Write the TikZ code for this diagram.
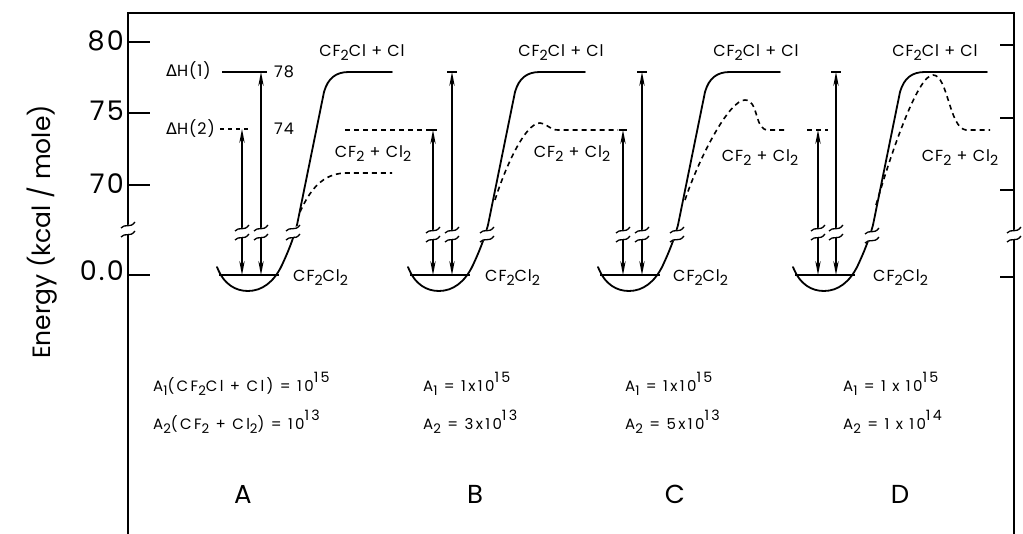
\documentclass[tikz,border=0pt]{standalone}
\usepackage{graphicx}
\usepackage{fontspec}
\setmainfont{Poppins}
\newfontfamily\djv{DejaVu Sans}
\usetikzlibrary{arrows.meta}
\newcommand\lo[1]{\raisebox{-0.45ex}{\scalebox{0.88}{#1}}}
\newcommand\hi[1]{\raisebox{0.62em}{\scalebox{0.95}{#1}}}
\newcommand\Dl{{\djv Δ}}
\newcommand\wellpath[1]{(-25,267) .. controls (-18,285) and (-6,291) .. (6,291) .. controls (20,291) and (32,282) .. (40,265) .. controls (46,252) and (51,240) .. (55,225) -- (82,92) .. controls (86,78) and (94,72) .. (107,72) -- (#1,72)}
\tikzset{
  frame/.style={line width=1.8pt},
  curve/.style={line width=1.8pt, line cap=round},
  dcurve/.style={line width=1.6pt, dash pattern=on 5pt off 4pt},
  lvl/.style={line width=1.4pt},
  varrow/.style={line width=1.3pt, {Stealth[length=14pt,width=5.4pt]}-{Stealth[length=14pt,width=5.4pt]}},
  plab/.style={font=\fontsize{16}{19}\selectfont\addfontfeatures{LetterSpace=6}, inner sep=0pt},
  alab/.style={font=\fontsize{27}{31}\selectfont\addfontfeatures{LetterSpace=8}, inner sep=0pt},
  ylab/.style={font=\fontsize{25}{30}\selectfont, inner sep=0pt},
  elab/.style={font=\fontsize{15}{18}\selectfont\addfontfeatures{LetterSpace=16}, inner sep=0pt},
  letlab/.style={font=\fontsize{26}{30}\selectfont, inner sep=0pt},
  brk/.pic={
    \fill[white] (-7,-2) -- (7,-8) -- (7,1) -- (-7,7) -- cycle;
    \draw[line width=1.3pt] (-7,-2) .. controls (-3,-7) and (2,-1) .. (7,-8);
    \draw[line width=1.3pt] (-7,7) .. controls (-3,2) and (2,8) .. (7,1);
  }
}
\begin{document}
\begin{tikzpicture}[x=1pt,y=-1pt]
\useasboundingbox (0,0) rectangle (1023,534);
% frame
\draw[frame] (128,534) -- (128,13) -- (1014,13) -- (1014,534);
\foreach \yy in {42,113,185,275} \draw[frame] (128,\yy) -- (150,\yy);
\foreach \yy in {45,118,190,277} \draw[frame] (1014,\yy) -- (1000,\yy);
\pic at (128,230) {brk};
\pic at (1014,235) {brk};
% axis labels
\node[alab, anchor=base east] (t80) at (124,51) {80};
\node[alab, anchor=base east] (t75) at (124,121) {75};
\node[alab, anchor=base east] (t70) at (124,194) {70};
\node[alab, anchor=base east] (t00) at (124,281) {0.0};
\node[ylab, rotate=90, anchor=base] (ylab) at (50,232) {Energy (kcal / mole)};

% ---------- Panel A ----------
\begin{scope}[xshift=242pt]
  \draw[lvl] (-23,275) -- (37,275);
  \draw[curve] \wellpath{150};
  \draw[dcurve] (58,212) .. controls (68,190) and (80,174) .. (103,173) -- (150,173);
  \draw[lvl] (-20,72) -- (25,72);
  \draw[lvl, dash pattern=on 4pt off 4pt] (-22,129) -- (6,129);
  \coordinate (Aa2t) at (0,129); \coordinate (Aa2b) at (0,275);
  \coordinate (Aa1t) at (19,72); \coordinate (Aa1b) at (19,275);
  \draw[varrow] (Aa2t) -- (Aa2b);
  \draw[varrow] (Aa1t) -- (Aa1b);
  \pic at (0,233) {brk};
  \pic at (19,233) {brk};
  \pic at (51,233) {brk};
\end{scope}
\node[plab, anchor=base west] (dh1) at (166,77) {\Dl H(1)};
\node[plab, anchor=base west] (n78) at (274,78) {78};
\node[plab, anchor=base west] (dh2) at (166,135) {\Dl H(2)};
\node[plab, anchor=base west] (n74) at (274,135) {74};
\node[plab, anchor=base] (Ap1) at (362,57) {CF\lo{2}Cl + Cl};
\node[plab, anchor=base] (Ap2) at (373,158) {CF\lo{2} + Cl\lo{2}};
\node[plab, anchor=base west] (Ar) at (293,282) {CF\lo{2}Cl\lo{2}};

% ---------- Panel B ----------
\begin{scope}[xshift=433pt]
  \draw[lvl] (-23,275) -- (37,275);
  \draw[curve] \wellpath{152};
  \draw[dcurve] (-88,130) -- (0,130);
  \draw[dcurve] (62,200) .. controls (72,168) and (92,123) .. (107,123) .. controls (114,123) and (116,130) .. (125,130) -- (185,130);
  \draw[lvl] (14,72) -- (24,72);
  \draw[lvl] (-4,130) -- (4,130);
  \coordinate (Ba2t) at (0,130); \coordinate (Ba2b) at (0,275);
  \coordinate (Ba1t) at (19,72); \coordinate (Ba1b) at (19,275);
  \draw[varrow] (Ba2t) -- (Ba2b);
  \draw[varrow] (Ba1t) -- (Ba1b);
  \pic at (0,235) {brk};
  \pic at (19,235) {brk};
  \pic at (54,235) {brk};
\end{scope}
\node[plab, anchor=base] (Bp1) at (561,57) {CF\lo{2}Cl + Cl};
\node[plab, anchor=base] (Bp2) at (572,158) {CF\lo{2} + Cl\lo{2}};
\node[plab, anchor=base west] (Br) at (485,282) {CF\lo{2}Cl\lo{2}};

% ---------- Panel C ----------
\begin{scope}[xshift=623pt]
  \draw[lvl] (-23,275) -- (37,275);
  \draw[curve] \wellpath{157};
  \draw[dcurve] (62,200) .. controls (76,158) and (106,100) .. (122,100) .. controls (136,100) and (131,130) .. (145,130) -- (165,130);
  \draw[lvl] (14,72) -- (24,72);
  \draw[lvl] (-4,130) -- (4,130);
  \coordinate (Ca2t) at (0,130); \coordinate (Ca2b) at (0,275);
  \coordinate (Ca1t) at (19,72); \coordinate (Ca1b) at (19,275);
  \draw[varrow] (Ca2t) -- (Ca2b);
  \draw[varrow] (Ca1t) -- (Ca1b);
  \pic at (0,235) {brk};
  \pic at (19,235) {brk};
  \pic at (54,235) {brk};
\end{scope}
\node[plab, anchor=base] (Cp1) at (756,57) {CF\lo{2}Cl + Cl};
\node[plab, anchor=base] (Cp2) at (760,162) {CF\lo{2} + Cl\lo{2}};
\node[plab, anchor=base west] (Cr) at (673,282) {CF\lo{2}Cl\lo{2}};

% ---------- Panel D ----------
\begin{scope}[xshift=818pt]
  \draw[lvl] (-23,275) -- (37,275);
  \draw[curve] \wellpath{169};
  \draw[dcurve] (58,205) .. controls (74,150) and (100,75) .. (115,75) .. controls (130,75) and (131,128) .. (148,130) -- (172,130);
  \draw[dcurve] (-11,130) -- (10,130);
  \draw[lvl] (13,72) -- (23,72);
  \coordinate (Da2t) at (0,130); \coordinate (Da2b) at (0,275);
  \coordinate (Da1t) at (18,72); \coordinate (Da1b) at (18,275);
  \draw[varrow] (Da2t) -- (Da2b);
  \draw[varrow] (Da1t) -- (Da1b);
  \pic at (0,233) {brk};
  \pic at (18,233) {brk};
  \pic at (54,236) {brk};
\end{scope}
\node[plab, anchor=base] (Dp1) at (935,57) {CF\lo{2}Cl + Cl};
\node[plab, anchor=base] (Dp2) at (960,162) {CF\lo{2} + Cl\lo{2}};
\node[plab, anchor=base west] (Dr) at (873,282) {CF\lo{2}Cl\lo{2}};

% ---------- bottom labels ----------
\node[elab, anchor=base west] (eA1) at (153,392) {A\lo{1}(CF\lo{2}Cl + Cl) = 10\hi{15}};
\node[elab, anchor=base west] (eA2) at (153,430) {A\lo{2}(CF\lo{2} + Cl\lo{2}) = 10\hi{13}};
\node[elab, anchor=base west] (eB1) at (423,392) {A\lo{1} = 1x10\hi{15}};
\node[elab, anchor=base west] (eB2) at (423,430) {A\lo{2} = 3x10\hi{13}};
\node[elab, anchor=base west] (eC1) at (625,392) {A\lo{1} = 1x10\hi{15}};
\node[elab, anchor=base west] (eC2) at (625,430) {A\lo{2} = 5x10\hi{13}};
\node[elab, anchor=base west] (eD1) at (843,392) {A\lo{1} = 1 x 10\hi{15}};
\node[elab, anchor=base west] (eD2) at (843,430) {A\lo{2} = 1 x 10\hi{14}};
\node[letlab, anchor=base] (LA) at (243,503) {A};
\node[letlab, anchor=base] (LB) at (475,503) {B};
\node[letlab, anchor=base] (LC) at (675,503) {C};
\node[letlab, anchor=base] (LD) at (900,503) {D};
\end{tikzpicture}
\end{document}
